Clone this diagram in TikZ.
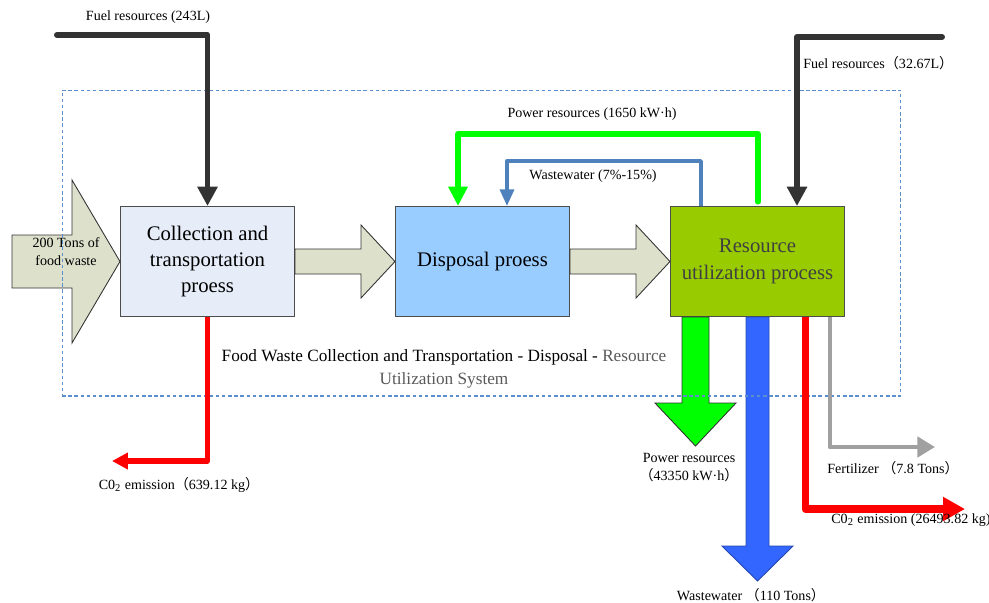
\documentclass[tikz,border=0pt]{standalone}
\usepackage{fontspec}
\setmainfont{Liberation Serif}
\newfontfamily\cjkfont{Noto Sans CJK SC}
\newcommand{\fwl}{{\cjkfont （}}
\newcommand{\fwr}{{\cjkfont ）}}
\definecolor{fuelgray}{RGB}{51,51,51}
\definecolor{pwrgreen}{RGB}{0,255,0}
\definecolor{wwblue}{RGB}{79,129,189}
\definecolor{co2red}{RGB}{255,0,0}
\definecolor{fertgray}{RGB}{160,160,160}
\definecolor{bigblue}{RGB}{51,102,255}
\definecolor{flowfill}{RGB}{221,224,203}
\definecolor{collectfill}{RGB}{230,237,248}
\definecolor{disposalfill}{RGB}{153,204,255}
\definecolor{resourcefill}{RGB}{153,204,0}
\definecolor{sysblue}{RGB}{91,143,208}
\definecolor{textgray}{RGB}{64,64,64}
\definecolor{sysgray}{RGB}{89,89,89}
\usetikzlibrary{arrows.meta,positioning,calc}

\begin{document}
\begin{tikzpicture}[x=0.02cm, y=-0.02cm,
  procbox/.style={rectangle, draw=black!70, line width=0.6pt,
                  minimum width=3.48cm, minimum height=2.2cm, inner sep=0pt,
                  align=center, font=\fontsize{11.8}{15}\selectfont},
  lbl/.style={inner sep=0pt, align=center, font=\fontsize{8}{10.2}\selectfont},
  flow/.style={draw=black!80, line width=0.5pt, fill=flowfill},
  sysframe/.style={rectangle, draw=sysblue, line width=0.6pt,
                   dash pattern=on 2pt off 1.5pt, inner sep=0pt},
  fuelarr/.style={draw=fuelgray, line width=3.4pt, line cap=round, line join=round,
                  -{Triangle[length=11pt,width=11pt]}},
  pwrarr/.style={draw=pwrgreen, line width=2.9pt, line cap=round, line join=round,
                 -{Triangle[length=11pt,width=10.5pt]}},
  wwarr/.style={draw=wwblue, line width=1.9pt, line join=round,
                -{Triangle[length=9.5pt,width=8pt]}},
  co2arr/.style={draw=co2red, line width=2.9pt, line join=round,
                 -{Triangle[length=9pt,width=9pt]}},
  co2big/.style={draw=co2red, line width=4pt, line join=round,
                 -{Triangle[length=12.5pt,width=13pt]}},
  fertarr/.style={draw=fertgray, line width=2.8pt, line join=round,
                  -{Triangle[length=10pt,width=11.4pt]}}
]
\useasboundingbox (0,0) rectangle (989,602);

% Process boxes
\node[procbox, fill=collectfill] (collect) at (207.5,261.5) {Collection and\\transportation\\proess};
\node[procbox, fill=disposalfill, right=2cm of collect] (disposal) {Disposal proess};
\node[procbox, fill=resourcefill, text=textgray, right=2cm of disposal] (resource) {Resource\\utilization process};

% Block arrows
\draw[flow] (12,235) -- (72,235) -- (72,180) -- (collect.west) -- (72,343) -- (72,288) -- (12,288) -- cycle;
\node[lbl] (input) at (66,252) {200 Tons of\\food waste};
\draw[flow] ($(collect.east)+(0,-12.5)$) -- ++(66,0) -- ++(0,-24) -- (disposal.west)
  -- ($(disposal.west)+(-34,36.5)$) -- ++(0,-24) -- ($(collect.east)+(0,12.5)$) -- cycle;
\draw[flow] ($(disposal.east)+(0,-12.5)$) -- ++(66,0) -- ++(0,-24) -- (resource.west)
  -- ($(resource.west)+(-34,36.5)$) -- ++(0,-24) -- ($(disposal.east)+(0,12.5)$) -- cycle;

% Outputs of resource utilization
\draw[draw=black!80, line width=0.5pt, fill=pwrgreen] ($(resource.south)+(-75.5,0)$) -- ++(0,86)
  -- ++(-27,0) -- ++(40.5,43) -- ++(40.5,-43) -- ++(-27,0) -- ++(0,-86) -- cycle;
\node[lbl] (pwrout) at (689,468) {Power resources\\\fwl 43350 kW·h\fwr};
\draw[draw=bigblue!70!black, line width=0.5pt, fill=bigblue] ($(resource.south)+(-11.5,0)$) -- ++(0,229)
  -- ++(-24,0) -- ++(35.5,35) -- ++(35.5,-35) -- ++(-24,0) -- ++(0,-229) -- cycle;
\node[lbl] (wwout) at (751,595) {Wastewater \fwl 110 Tons\fwr};

% System boundary
\node[sysframe, minimum width=16.78cm, minimum height=6.12cm] (sys) at (481.5,243) {};
\node[align=center, inner sep=0pt, font=\fontsize{9.8}{13}\selectfont] (syslbl) at (444,369)
  {Food Waste Collection and Transportation - Disposal - \textcolor{sysgray}{Resource}\\\textcolor{sysgray}{Utilization System}};

% Fuel inputs
\coordinate (fuelA) at (57,35);
\draw[fuelarr] (fuelA) -| (collect.north);
\node[lbl] (fuelAlbl) at (148,17) {Fuel resources (243L)};
\coordinate (fuelB) at (942,37);
\draw[fuelarr] (fuelB) -| ($(resource.north)+(39.5,0)$);
\node[lbl, anchor=west] (fuelBlbl) at (803,63) {Fuel resources\fwl 32.67L\fwr};

% Feedback loops
\draw[pwrarr] ($(resource.north)+(0.5,-4)$) -- ++(0,-68) -| ($(disposal.north)+(-24.5,0)$);
\node[lbl] (pwrlbl) at (592,114) {Power resources (1650 kW·h)};
\draw[wwarr] ($(resource.north)+(-56.5,0)$) -- ++(0,-45) -| ($(disposal.north)+(24.5,0)$);
\node[lbl] (wwlbl) at (593,176) {Wastewater (7\%-15\%)};

% Emissions and fertilizer
\coordinate (co2A) at (112,461);
\draw[co2arr] (collect.south) |- (co2A);
\node[lbl] (co2Albl) at (179,485) {C0\textsubscript{2} emission\fwl 639.12 kg\fwr};
\coordinate (fert) at (935,447);
\draw[fertarr] ($(resource.south)+(72.5,0)$) |- (fert);
\node[lbl, anchor=west] (fertlbl) at (827,468) {Fertilizer \fwl 7.8 Tons\fwr};
\coordinate (co2B) at (965,509);
\draw[co2big] ($(resource.south)+(47.5,0)$) |- (co2B);
\node[lbl, anchor=west] (co2Blbl) at (831,520) {C0\textsubscript{2} emission (26493.82 kg)};
\end{tikzpicture}
\end{document}
